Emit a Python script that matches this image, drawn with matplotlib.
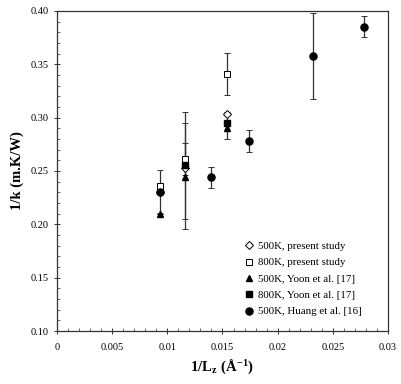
import numpy as np
import matplotlib
matplotlib.use("Agg")
import matplotlib.pyplot as plt
from matplotlib.ticker import MultipleLocator, FuncFormatter

# data
x_500_present = [0.0093, 0.0116, 0.0154]
y_500_present = [0.2300, 0.2525, 0.3034]

x_800_present = [0.0093, 0.0116, 0.0154]
y_800_present = [0.2359, 0.2610, 0.3409]
err_800_present = [0.0, 0.015, 0.020]

x_500_yoon = [0.0093, 0.0116, 0.0154]
y_500_yoon = [0.2100, 0.2447, 0.2903]
err_500_yoon_lo = [0.0, 0.0494, 0.0100]
err_500_yoon_hi = [0.0, 0.0603, 0.0150]

x_800_yoon = [0.0116, 0.0154]
y_800_yoon = [0.2559, 0.2953]
err_800_yoon_lo = [0.0506, 0.0]
err_800_yoon_hi = [0.0394, 0.0]

x_500_huang = [0.0093, 0.0140, 0.0174, 0.0232, 0.0278]
y_500_huang = [0.2306, 0.2441, 0.2781, 0.3578, 0.3853]
err_huang_lo = [0.020, 0.010, 0.0106, 0.0403, 0.0100]
err_huang_hi = [0.020, 0.010, 0.0100, 0.0400, 0.0103]

plt.rcParams["font.family"] = ["Liberation Serif", "DejaVu Serif"]
plt.rcParams["mathtext.fontset"] = "custom"
plt.rcParams["mathtext.rm"] = "Liberation Serif"
plt.rcParams["mathtext.bf"] = "Liberation Serif:bold"

fig = plt.figure(figsize=(4.01, 3.84), dpi=100)
ax = fig.add_axes([0.1421, 0.138, 0.8255, 0.8334])

ebar = dict(fmt="none", ecolor="#333333", elinewidth=0.9, capsize=2, capthick=0.7, zorder=1)
ax.errorbar(x_500_huang, y_500_huang, yerr=[err_huang_lo, err_huang_hi], **ebar)
ax.errorbar(x_500_yoon, y_500_yoon, yerr=[err_500_yoon_lo, err_500_yoon_hi], **ebar)
ax.errorbar(x_800_yoon, y_800_yoon, yerr=[err_800_yoon_lo, err_800_yoon_hi], **ebar)
ax.errorbar(x_800_present, y_800_present, yerr=err_800_present, **ebar)

ms = 4.5
ax.plot(x_500_present, y_500_present, "D", ms=ms - 0.5, mfc="white", mec="black", mew=0.7,
        ls="none", label="500K, present study", zorder=3)
ax.plot(x_800_present, y_800_present, "s", ms=ms, mfc="white", mec="black", mew=0.7,
        ls="none", label="800K, present study", zorder=3)
ax.plot(x_500_yoon, y_500_yoon, "^", ms=ms + 0.4, color="black", ls="none",
        label="500K, Yoon et al. [17]", zorder=3)
ax.plot(x_800_yoon, y_800_yoon, "s", ms=ms - 0.3, color="black", ls="none",
        label="800K, Yoon et al. [17]", zorder=3)
ax.plot(x_500_huang, y_500_huang, "o", ms=ms + 0.6, color="black", ls="none",
        label="500K, Huang et al. [16]", zorder=3)

ax.set_xlim(0, 0.03)
ax.set_ylim(0.10, 0.40)
ax.xaxis.set_major_locator(MultipleLocator(0.005))
ax.xaxis.set_minor_locator(MultipleLocator(0.001))
ax.yaxis.set_major_locator(MultipleLocator(0.05))
ax.yaxis.set_minor_locator(MultipleLocator(0.01))
ax.xaxis.set_major_formatter(FuncFormatter(lambda v, p: "0" if abs(v) < 1e-9 else f"{v:g}"))
ax.yaxis.set_major_formatter(FuncFormatter(lambda v, p: f"{v:.2f}"))
ax.tick_params(which="major", direction="inout", length=5, width=0.7, labelsize=7.5, colors="#333333")
ax.tick_params(axis="x", which="major", pad=6)
ax.tick_params(which="minor", direction="in", length=2.5, width=0.6, colors="#555555")
ax.tick_params(axis="both", labelcolor="black")
for s in ax.spines.values():
    s.set_linewidth(0.9)
    s.set_color("#333333")

ax.set_ylabel("1/k (m.K/W)", fontsize=10.5, fontweight="bold", labelpad=5)
ax.set_xlabel(r"$\mathbf{1/L_z\ (\AA^{-1})}$", fontsize=10.5, labelpad=4)

ax.legend(loc="lower left", bbox_to_anchor=(0.54, 0.022), frameon=False, fontsize=7.8,
          handlelength=1.0, handletextpad=0.4, labelspacing=0.62, borderpad=0.2)

fig.savefig("out.png", dpi=100)
